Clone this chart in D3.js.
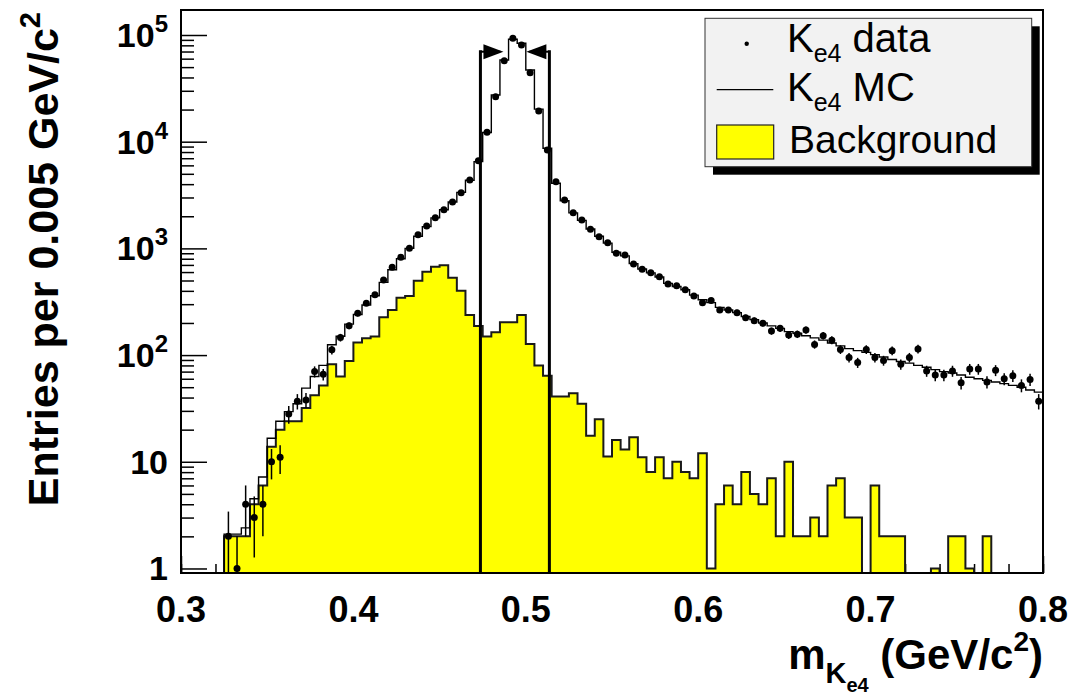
<!DOCTYPE html>
<html><head><meta charset="utf-8">
<script src="https://cdn.jsdelivr.net/npm/d3@7"></script>
<style>
body{margin:0;background:#fff;}
svg{display:block;}
text{font-family:"Liberation Sans",Arial,Helvetica,sans-serif;}
</style>
</head><body>
<svg id="c" width="1069" height="696"></svg>
<script>
// ---- data (entries per 0.005 GeV/c^2 bin, 100 bins from 0.300 to 0.800) ----
const xMin = 0.3, xMax = 0.8, binWidth = 0.005;
const dataCounts = [
  0,0,0,0,0, 2,1,4,3,4,
  10,11,28,37,38, 70,66,112,146,188,
  246,306,368,505,666, 826,1002,1344,1622,1940,
  2300,2720,3330,4375,6640, 12240,26400,57400,93100,80600,
  44300,19400,8360,4220,2843, 2161,1846,1510,1288,1131,
  900,867,714,637,592, 543,464,447,410,358,
  310,324,265,265,250, 224,210,199,168,178,
  154,157,172,126,152, 138,113,95,85,113,
  95,89,110,82,95, 114,71,65,65,71,
  55,74,74,56,72, 60,64,52,59,37
];
const mcCounts = [
  0,0,0,0,0, 2.1,2.1,2.4,4.5,7.2,
  16.6,24,29.5,35,49, 63,80,125,150,195,
  240,295,360,480,630, 800,1000,1300,1600,1930,
  2300,2720,3350,4350,6500, 12200,27400,58300,91200,83600,
  47000,20200,8670,4080,2800, 2150,1830,1520,1300,1120,
  920,850,720,640,590, 540,470,440,410,365,
  330,310,280,265,250, 230,215,200,188,178,
  166,160,152,145,138, 130,122,115,110,106,
  101,96,91,87,84, 80,77,73,70,68,
  65,62,60,58,56, 54,52,50,47,45
];
const bgCounts = [
  0,0,0,0,0, 2,2,2,4,6,
  13.8,20,24,24,32, 42,52,82,63,88,
  131,144,149,226,265, 345,358,498,605,674,
  694,531,401,238,187, 149,164,203,203,238,
  127,80,64,41,41, 44,35,17.5,25,11.2,
  16,13,17,11,8, 11,7,10,8,7,
  12,1,4,6,4, 8,5,4,7,2,
  10,2,2,3,2, 6,7,3,3,0,
  6,2,2,2,0, 0,0,1,0,2,
  2,1,0,2,0, 0,0,0,0,0
];
const cutValues = [0.47368, 0.51368];
const xTickValues = [0.3, 0.4, 0.5, 0.6, 0.7, 0.8];
const xTickLabels = ["0.3", "0.4", "0.5", "0.6", "0.7", "0.8"];
const yTickValues = [1, 10, 100, 1000, 10000, 100000];
const yTickBase = ["1", "10", "10", "10", "10", "10"];
const yTickExp = ["", "", "2", "3", "4", "5"];
const legendNames = ["data", "MC", "Background"];

// ---- layout ----
const plot = {left: 181, right: 1043, top: 10, bottom: 573};
const yLow = 0.907, yHigh = 1.715e5;
const svg = d3.select("#c");
const x = d3.scaleLinear().domain([xMin, xMax]).range([plot.left, plot.right]);
const y = d3.scaleLog().domain([yLow, yHigh]).range([plot.bottom, plot.top]);
const yc = v => (v > yLow ? y(v) : plot.bottom);
const edge = i => xMin + i * binWidth;

// ---- axis ticks (drawn first; histograms cover them) ----
const xMinor = d3.range(0, 26).map(k => xMin + k * 0.02).filter(v => v <= xMax + 1e-9);
svg.append("g").attr("transform", `translate(0,${plot.bottom})`)
  .call(d3.axisBottom(x).tickValues(xMinor).tickSize(-9).tickFormat(""))
  .call(g => g.select(".domain").remove())
  .selectAll("line").attr("stroke", "#000").attr("stroke-width", 1.5);
svg.append("g").attr("transform", `translate(0,${plot.bottom})`)
  .call(d3.axisBottom(x).tickValues(xTickValues).tickSize(-17).tickFormat(""))
  .call(g => g.select(".domain").remove())
  .selectAll("line").attr("stroke", "#000").attr("stroke-width", 1.5);

const yMinor = [];
for (let d = 0; d <= 5; d++) for (let m = 2; m <= 9; m++) { const v = m * Math.pow(10, d); if (v < yHigh) yMinor.push(v); }
svg.append("g").attr("transform", `translate(${plot.left},0)`)
  .call(d3.axisLeft(y).tickValues(yMinor).tickSize(-13).tickFormat(""))
  .call(g => g.select(".domain").remove())
  .selectAll("line").attr("stroke", "#000").attr("stroke-width", 1.5);
svg.append("g").attr("transform", `translate(${plot.left},0)`)
  .call(d3.axisLeft(y).tickValues(yTickValues).tickSize(-26).tickFormat(""))
  .call(g => g.select(".domain").remove())
  .selectAll("line").attr("stroke", "#000").attr("stroke-width", 1.5);

// ---- histogram step paths ----
function stepPoints(arr) {
  const pts = [[x(edge(0)), plot.bottom]];
  arr.forEach((v, i) => { pts.push([x(edge(i)), yc(v)]); pts.push([x(edge(i + 1)), yc(v)]); });
  pts.push([x(edge(arr.length)), plot.bottom]);
  return pts;
}
const line = d3.line();

// background (yellow)
svg.append("path").attr("d", line(stepPoints(bgCounts)) + "Z")
  .attr("fill", "#ffff00").attr("stroke", "none");
svg.append("path").attr("d", line(stepPoints(bgCounts)))
  .attr("fill", "none").attr("stroke", "#1a1a1a").attr("stroke-width", 2);

// MC
svg.append("path").attr("d", line(stepPoints(mcCounts)))
  .attr("fill", "none").attr("stroke", "#000").attr("stroke-width", 1.4);

// data with sqrt(N) error bars
const pts = dataCounts.map((v, i) => ({v, c: edge(i) + binWidth / 2})).filter(d => d.v > 0);
svg.append("g").selectAll("line").data(pts).join("line")
  .attr("x1", d => x(d.c)).attr("x2", d => x(d.c))
  .attr("y1", d => yc(d.v - Math.sqrt(d.v))).attr("y2", d => yc(d.v + Math.sqrt(d.v)))
  .attr("stroke", "#000").attr("stroke-width", 1.5);
svg.append("g").selectAll("circle").data(pts).join("circle")
  .attr("cx", d => x(d.c)).attr("cy", d => y(d.v)).attr("r", 3.5).attr("fill", "#000");

// cut lines and arrows
const arrowY = 51.7;
cutValues.forEach((c, k) => {
  const cx = x(c), dir = k === 0 ? 1 : -1;
  svg.append("line").attr("x1", cx).attr("x2", cx).attr("y1", plot.bottom).attr("y2", arrowY - 1.5)
    .attr("stroke", "#000").attr("stroke-width", 3);
  svg.append("line").attr("x1", cx).attr("x2", cx + dir * 20).attr("y1", arrowY).attr("y2", arrowY)
    .attr("stroke", "#000").attr("stroke-width", 2);
  svg.append("path")
    .attr("d", `M${cx + dir * 3},${arrowY - 7.5}L${cx + dir * 23},${arrowY}L${cx + dir * 3},${arrowY + 7.5}Z`)
    .attr("fill", "#000");
});

// frame
svg.append("rect").attr("x", plot.left).attr("y", plot.top)
  .attr("width", plot.right - plot.left).attr("height", plot.bottom - plot.top)
  .attr("fill", "none").attr("stroke", "#000").attr("stroke-width", 2);

// ---- tick labels ----
const xl = svg.append("g").attr("font-weight", "bold").attr("font-size", 36).attr("text-anchor", "middle");
xTickValues.forEach((v, i) => xl.append("text").attr("x", x(v)).attr("y", 622).text(xTickLabels[i]));

const yl = svg.append("g").attr("font-weight", "bold").attr("text-anchor", "end");
yTickValues.forEach((v, i) => {
  const t = yl.append("text").attr("x", 168).attr("y", y(v) + 12).attr("font-size", 34);
  t.append("tspan").text(yTickBase[i]);
  if (yTickExp[i]) t.append("tspan").attr("font-size", 24).attr("dy", -15).text(yTickExp[i]);
});

// ---- axis titles ----
const xt = svg.append("text").attr("x", 1043).attr("y", 669).attr("text-anchor", "end")
  .attr("font-weight", "bold").attr("font-size", 42);
xt.append("tspan").text("m");
xt.append("tspan").attr("font-size", 29).attr("dy", 14).text("K");
xt.append("tspan").attr("font-size", 20).attr("dy", 9).text("e4");
xt.append("tspan").attr("dy", -23).text(" (GeV/c");
xt.append("tspan").attr("font-size", 28).attr("dy", -18).text("2");
xt.append("tspan").attr("dy", 18).text(")");

const yt = svg.append("text").attr("transform", "translate(58,12) rotate(-90)").attr("text-anchor", "end")
  .attr("font-weight", "bold").attr("font-size", 43);
yt.append("tspan").text("Entries per 0.005 GeV/c");
yt.append("tspan").attr("font-size", 29).attr("dy", -18).text("2");

// ---- legend ----
const lg = {x: 705, y: 18.3, w: 326.7, h: 148.4};
svg.append("rect").attr("x", lg.x + 8).attr("y", lg.y + 8).attr("width", lg.w).attr("height", lg.h).attr("fill", "#000");
svg.append("rect").attr("x", lg.x).attr("y", lg.y).attr("width", lg.w).attr("height", lg.h)
  .attr("fill", "#f2f2f2").attr("stroke", "#333").attr("stroke-width", 1);
const rowBase = [51.7, 101.2, 152.5];
// entry 1 : marker
svg.append("circle").attr("cx", 746.7).attr("cy", rowBase[0] - 8).attr("r", 2.2).attr("fill", "#000");
// entry 2 : line
svg.append("line").attr("x1", 716.7).attr("x2", 773.3).attr("y1", 89.7).attr("y2", 89.7)
  .attr("stroke", "#000").attr("stroke-width", 1.2);
// entry 3 : yellow box
svg.append("rect").attr("x", 716.7).attr("y", 125).attr("width", 57).attr("height", 34)
  .attr("fill", "#ffff00").attr("stroke", "#222").attr("stroke-width", 1.2);
[0, 1].forEach(k => {
  const t = svg.append("text").attr("x", 787).attr("y", rowBase[k]).attr("font-size", 40);
  t.append("tspan").text("K");
  t.append("tspan").attr("font-size", 25).attr("dy", 10).text("e4");
  t.append("tspan").attr("dy", -10).text(" " + legendNames[k]);
});
svg.append("text").attr("x", 789).attr("y", rowBase[2]).attr("font-size", 39).text(legendNames[2]);
</script>
</body></html>
